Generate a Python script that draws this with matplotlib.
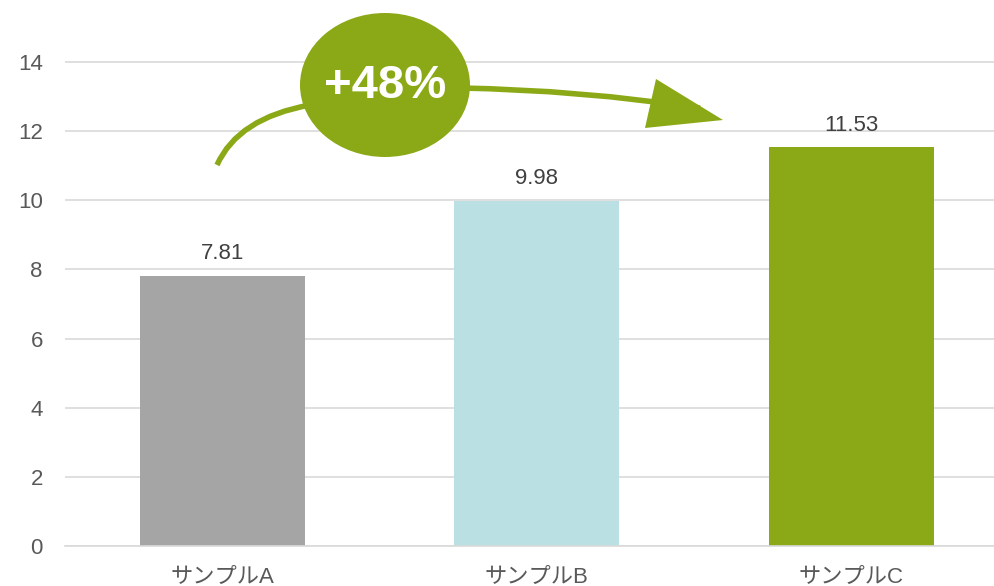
import matplotlib
matplotlib.use("Agg")
import matplotlib.pyplot as plt
from matplotlib.patches import Ellipse, Polygon, PathPatch
from matplotlib.path import Path

plt.rcParams['font.family'] = ['Liberation Sans', 'Noto Sans CJK JP', 'DejaVu Sans']

categories = ["サンプルA", "サンプルB", "サンプルC"]
values = [7.81, 9.98, 11.53]
colors = ["#A5A5A5", "#BBE0E3", "#8BA916"]
value_labels = ["7.81", "9.98", "11.53"]
yticks = [0, 2, 4, 6, 8, 10, 12, 14]
badge_text = "+48%"
green = "#8BA916"

W, H = 994, 586
fig = plt.figure(figsize=(W / 100, H / 100), dpi=100)
ax_left, ax_bottom = 65, 586 - 546
ax = fig.add_axes([ax_left / W, ax_bottom / H, (W - ax_left) / W, 546 / H])

x = list(range(len(categories)))
ax.bar(x, values, width=0.525, color=colors, zorder=2)

ppx = 314.5   # pixels per x unit
ppy = 34.57   # pixels per y unit
ax.set_xlim(-0.5, -0.5 + (W - ax_left) / ppx)
ax.set_ylim(0, 546 / ppy)

ax.set_yticks(yticks)
ax.set_yticklabels([str(t) for t in yticks], fontsize=16, color="#595959")
ax.set_xticks(x)
ax.set_xticklabels(categories, fontsize=16, color="#595959")
ax.tick_params(axis='both', length=0)
ax.tick_params(axis='y', pad=16)
ax.tick_params(axis='x', pad=15)

for s in ["top", "right", "left"]:
    ax.spines[s].set_visible(False)
ax.spines["bottom"].set_color("#D9D9D9")
ax.spines["bottom"].set_linewidth(1.2)
ax.yaxis.grid(True, color="#D9D9D9", linewidth=1.2, zorder=0)
ax.set_axisbelow(True)

for xi, v, lab in zip(x, values, value_labels):
    ax.annotate(lab, (xi, v), xytext=(0, 12), textcoords="offset points",
                ha="center", va="baseline", fontsize=16, color="#404040")

def px(p):
    return ((p[0] - ax_left) / ppx - 0.5, (546 - p[1]) / ppy)

# curved left stroke
left = Path([px((217, 165)), px((238, 118)), px((310, 105))],
            [Path.MOVETO, Path.CURVE3, Path.CURVE3])
ax.add_patch(PathPatch(left, facecolor="none", edgecolor=green, lw=4, zorder=3,
                       capstyle="butt"))
# right stroke toward arrow
right = Path([px((460, 88)), px((580, 90)), px((700, 108))],
             [Path.MOVETO, Path.CURVE3, Path.CURVE3])
ax.add_patch(PathPatch(right, facecolor="none", edgecolor=green, lw=4, zorder=3,
                       capstyle="butt"))
ax.add_patch(Polygon([px((656, 79)), px((645, 128)), px((723, 120))],
                     closed=True, facecolor=green, edgecolor="none", zorder=3))

# badge
ex, ey = px((385, 85))
ax.add_patch(Ellipse((ex, ey), 170 / ppx, 144 / ppy, facecolor=green,
                     edgecolor="none", zorder=4))
ax.text(ex, ey - 1 / ppy, badge_text, ha="center", va="center", fontsize=34,
        fontweight="bold", color="white", zorder=5)

fig.savefig("out.png", dpi=100)
